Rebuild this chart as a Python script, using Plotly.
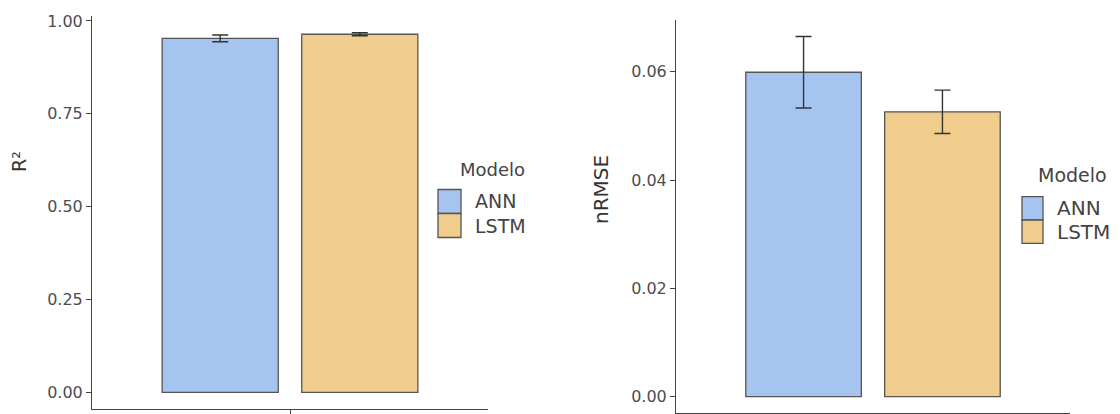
import plotly.graph_objects as go

# ---- data ----
models = ["ANN", "LSTM"]
category = ["Modelo"]
r2_mean = [0.953, 0.964]
r2_err = [0.009, 0.004]
nrmse_mean = [0.0599, 0.0526]
nrmse_err = [0.0066, 0.0040]
r2_tickvals = [0.0, 0.25, 0.5, 0.75, 1.0]
r2_ticktext = ["0.00", "0.25", "0.50", "0.75", "1.00"]
nrmse_tickvals = [0.0, 0.02, 0.04, 0.06]
nrmse_ticktext = ["0.00", "0.02", "0.04", "0.06"]
legend_title = "Modelo"

# ---- style ----
W, H = 1120, 414
colors = ["#A6C4F0", "#F0CD8C"]
outline = "#555555"
axis_col = "#444444"
FONT = "DejaVu Sans"
tick_font = dict(family=FONT, size=16, color="#4d4d4d")


def px_x(v):
    return v / W


def px_y(v):
    return 1 - v / H


fig = go.Figure()
panels = [("x", "y", r2_mean, r2_err), ("x2", "y2", nrmse_mean, nrmse_err)]
for xa, ya, means, errs in panels:
    for m, c, v, e in zip(models, colors, means, errs):
        fig.add_trace(go.Bar(
            x=category, y=[v], name=m, xaxis=xa, yaxis=ya, showlegend=False,
            marker=dict(color=c, line=dict(color=outline, width=1.3)),
            error_y=dict(type="data", array=[e], color="#333333", thickness=1.4, width=8),
            hoverinfo="skip",
        ))

common_x = dict(type="category", range=[-0.6, 0.6], showline=True, linecolor=axis_col, linewidth=1,
                ticks="outside", ticklen=5, tickcolor=axis_col, showticklabels=False,
                showgrid=False, zeroline=False, automargin=False)
common_y = dict(showline=True, linecolor=axis_col, linewidth=1, ticks="outside", ticklen=5,
                tickcolor=axis_col, tickfont=tick_font, showgrid=False, zeroline=False,
                automargin=False)

fig.update_layout(
    width=W, height=H,
    margin=dict(l=0, r=0, t=0, b=0, autoexpand=False),
    paper_bgcolor="white", plot_bgcolor="white",
    barmode="group", bargap=0.154, bargroupgap=0.168,
    showlegend=False,
    xaxis=dict(domain=[px_x(92), px_x(488)], anchor="y", **common_x),
    yaxis=dict(domain=[px_y(408.7), px_y(15.7)], anchor="x", range=[-0.044, 1.014],
               tickvals=r2_tickvals, ticktext=r2_ticktext, **common_y),
    xaxis2=dict(domain=[px_x(676), px_x(1070)], anchor="y2", **common_x),
    yaxis2=dict(domain=[px_y(412.7), px_y(20)], anchor="x2", range=[-0.00295, 0.06955],
                tickvals=nrmse_tickvals, ticktext=nrmse_ticktext, **common_y),
)

annotations = []
shapes = []
# axis titles
annotations.append(dict(text="R²", x=px_x(19), y=px_y(162), xref="paper", yref="paper",
                        textangle=-90, showarrow=False, xanchor="center", yanchor="middle",
                        font=dict(family=FONT, size=19, color="#333333")))
annotations.append(dict(text="nRMSE", x=px_x(601), y=px_y(190), xref="paper", yref="paper",
                        textangle=-90, showarrow=False, xanchor="center", yanchor="middle",
                        font=dict(family=FONT, size=20, color="#333333")))

# legends (drawn manually to reproduce ggplot key size)
legend_specs = [
    dict(kx0=438, kx1=461, ky=[(189.5, 213.5), (213.5, 237.5)], tx=473, title_x=458, title_y=169,
         tsize=18, lsize=19),
    dict(kx0=1022, kx1=1043, ky=[(196.7, 220), (220, 243.3)], tx=1055, title_x=1036, title_y=175,
         tsize=19, lsize=20),
]
for spec in legend_specs:
    annotations.append(dict(text=legend_title, x=px_x(spec["title_x"]), y=px_y(spec["title_y"]),
                            xref="paper", yref="paper", showarrow=False, xanchor="left",
                            yanchor="middle",
                            font=dict(family=FONT, size=spec["tsize"], color="#444444")))
    for m, c, (y0, y1) in zip(models, colors, spec["ky"]):
        shapes.append(dict(type="rect", xref="paper", yref="paper",
                           x0=px_x(spec["kx0"]), x1=px_x(spec["kx1"]), y0=px_y(y1), y1=px_y(y0),
                           fillcolor=c, line=dict(color=outline, width=1.3)))
        annotations.append(dict(text=m, x=px_x(spec["tx"]), y=px_y((y0 + y1) / 2),
                                xref="paper", yref="paper", showarrow=False, xanchor="left",
                                yanchor="middle",
                                font=dict(family=FONT, size=spec["lsize"], color="#444444")))

fig.update_layout(annotations=annotations, shapes=shapes)
fig.write_html("out.html")
